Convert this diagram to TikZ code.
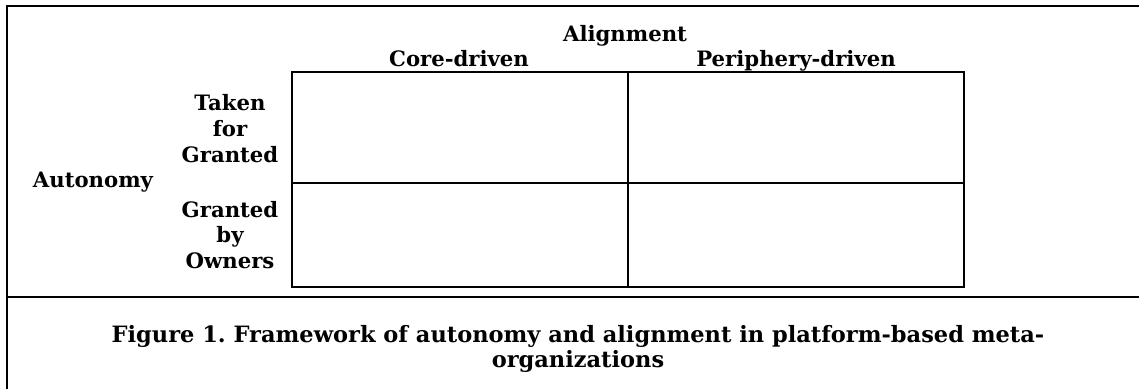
\documentclass[tikz,border=0pt]{standalone}
\usepackage{fontspec}
\setmainfont{DejaVu Serif}
\setlength{\tabcolsep}{0pt}
\newcommand{\stackt}[1]{\begin{tabular}[t]{c}#1\end{tabular}}
\begin{document}
\frenchspacing
\begin{tikzpicture}[x=1pt,y=-1pt,
  frame/.style={line width=2.6pt},
  gridline/.style={line width=2.4pt},
  lbl/.style={font=\bfseries\fontsize{21.2}{25.7}\selectfont, inner sep=0pt, anchor=base},
  captxt/.style={font=\bfseries\fontsize{22.5}{25}\selectfont, inner sep=0pt, anchor=base}]
\useasboundingbox (0,0) rectangle (1139,389);
% frame
\coordinate (tl) at (7,6);
\coordinate (tr) at (1139,6);
\coordinate (bl) at (7,389);
\coordinate (sl) at (7,297);
\coordinate (sr) at (1139,297);
\draw[frame] (tr) -- (tl) -- (bl);
\draw[frame] (sl) -- (sr);
% grid
\coordinate (g1) at (292,72);
\coordinate (g2) at (964,287);
\coordinate (gt) at (628,72);
\coordinate (gb) at (628,287);
\coordinate (gl) at (292,183);
\coordinate (gr) at (964,183);
\draw[gridline] (g1) rectangle (g2);
\draw[gridline] (gt) -- (gb);
\draw[gridline] (gl) -- (gr);
% labels
\node[lbl] (align) at (625,41) {Alignment};
\node[lbl] (core) at (459,66) {Core-driven};
\node[lbl] (peri) at (796,66) {Periphery-driven};
\node[lbl] (auto) at (93,187.3) {Autonomy};
\node[lbl] (taken) at (230,110.7) {\stackt{Taken\\for\\Granted}};
\node[lbl] (owners) at (230,217) {\stackt{Granted\\by\\Owners}};
\node[captxt] (caption) at (578,342) {\stackt{Figure 1. Framework of autonomy and alignment in platform-based meta-\\organizations}};
\end{tikzpicture}
\end{document}
